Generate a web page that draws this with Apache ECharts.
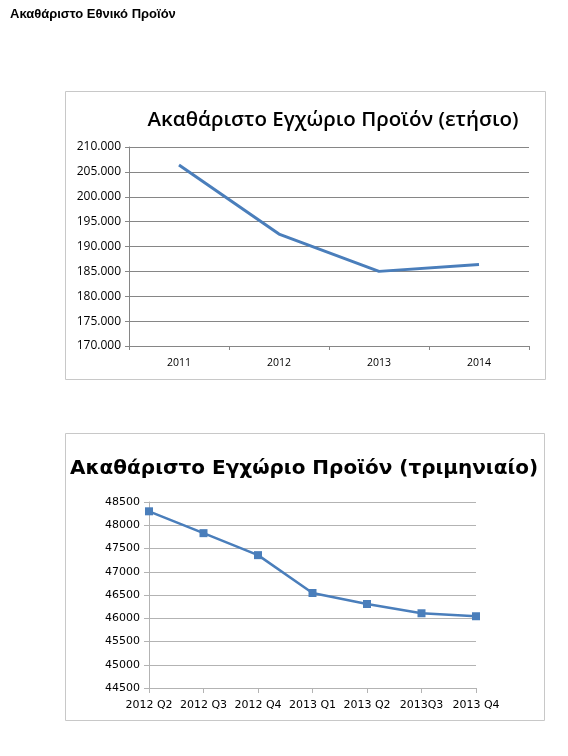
<!DOCTYPE html>
<html>
<head>
<meta charset="utf-8">
<script src="https://cdn.jsdelivr.net/npm/echarts@6/dist/echarts.min.js"></script>
<style>
  html, body { margin: 0; padding: 0; background: #fff; }
  #chart { width: 568px; height: 756px; }
</style>
</head>
<body>
<div id="chart"></div>
<script>
// annual GDP (million EUR)
const years = ['2011', '2012', '2013', '2014'];
const annualGdp = [206400, 192500, 185000, 186400];

// quarterly GDP
const quarters = ['2012 Q2', '2012 Q3', '2012 Q4', '2013 Q1', '2013 Q2', '2013Q3', '2013 Q4'];
const quarterlyGdp = [48300, 47830, 47357, 46543, 46307, 46107, 46043];

const lineColor = '#4a7ebb';

// greek style thousands: 210.000
const fmtDot = v => String(v).replace(/\B(?=(\d{3})+(?!\d))/g, '.');

const chart = echarts.init(document.getElementById('chart'));

const option = {
  animation: false,
  backgroundColor: '#fff',
  title: [
    {
      text: 'Ακαθάριστο Εθνικό Προϊόν',
      left: 5, top: 3,
      textStyle: { fontFamily: 'Liberation Sans', fontWeight: 'bold', fontSize: 13, color: '#000' }
    },
    {
      text: 'Ακαθάριστο Εγχώριο Προϊόν (ετήσιο)',
      left: 328, top: 105, textAlign: 'center',
      textStyle: { fontFamily: 'Open Sans', fontWeight: 600, fontSize: 20.5, color: '#000' }
    },
    {
      text: 'Ακαθάριστο Εγχώριο Προϊόν (τριμηνιαίο)',
      left: 299, top: 454, textAlign: 'center',
      textStyle: { fontFamily: 'DejaVu Sans', fontWeight: 'bold', fontSize: 20, color: '#000' }
    }
  ],
  graphic: [
    { type: 'rect', shape: { x: 65.5, y: 91.5, width: 480, height: 288 },
      style: { fill: 'none', stroke: '#c8c8c8', lineWidth: 1 } },
    { type: 'rect', shape: { x: 65.5, y: 433.5, width: 479, height: 287 },
      style: { fill: 'none', stroke: '#c8c8c8', lineWidth: 1 } }
  ],
  grid: [
    { left: 129, top: 147, width: 400, height: 199 },
    { left: 149, top: 502, width: 327, height: 186 }
  ],
  xAxis: [
    {
      type: 'category', gridIndex: 0, data: years, boundaryGap: true,
      axisLine: { lineStyle: { color: '#868686' } },
      axisTick: { show: true, length: 4, lineStyle: { color: '#868686' } },
      axisLabel: { color: '#000', fontFamily: 'Open Sans', fontSize: 10.5, margin: 12 }
    },
    {
      type: 'category', gridIndex: 1, data: quarters, boundaryGap: false,
      axisLine: { lineStyle: { color: '#b3b3b3' } },
      axisTick: { show: true, length: 5, lineStyle: { color: '#b3b3b3' } },
      axisLabel: { color: '#000', fontFamily: 'DejaVu Sans', fontSize: 11, margin: 12, interval: 0 }
    }
  ],
  yAxis: [
    {
      type: 'value', gridIndex: 0, min: 170000, max: 210000, interval: 5000,
      axisLine: { show: true, lineStyle: { color: '#868686' } },
      axisTick: { show: true, length: 4, lineStyle: { color: '#868686' } },
      splitLine: { lineStyle: { color: '#868686' } },
      axisLabel: { color: '#000', fontFamily: 'Open Sans', fontSize: 12, margin: 8, formatter: fmtDot }
    },
    {
      type: 'value', gridIndex: 1, min: 44500, max: 48500, interval: 500,
      axisLine: { show: true, lineStyle: { color: '#b3b3b3' } },
      axisTick: { show: true, length: 5, lineStyle: { color: '#b3b3b3' } },
      splitLine: { lineStyle: { color: '#b3b3b3' } },
      axisLabel: { color: '#000', fontFamily: 'DejaVu Sans', fontSize: 11, margin: 9, formatter: v => String(v) }
    }
  ],
  series: [
    {
      type: 'line', xAxisIndex: 0, yAxisIndex: 0, data: annualGdp,
      showSymbol: false, symbol: 'none',
      lineStyle: { color: lineColor, width: 3 }
    },
    {
      type: 'line', xAxisIndex: 1, yAxisIndex: 1, data: quarterlyGdp,
      symbol: 'rect', symbolSize: 8,
      itemStyle: { color: lineColor },
      lineStyle: { color: lineColor, width: 2.5 }
    }
  ]
};

chart.setOption(option);
</script>
</body>
</html>
